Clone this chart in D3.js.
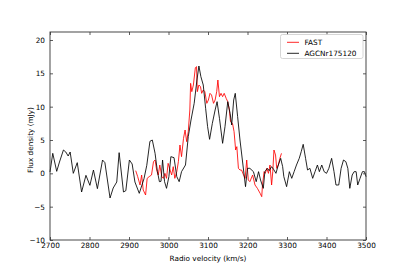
<!DOCTYPE html>
<html><head><meta charset="utf-8">
<script src="https://cdn.jsdelivr.net/npm/d3@7"></script>
<style>body{margin:0;background:#fff}svg{display:block}text{font-family:"DejaVu Sans",sans-serif;fill:#000}</style>
</head><body><svg id="c" width="407" height="271"></svg>
<script>
const agcVel = [2700,2707,2717,2724,2734,2740,2746,2751,2759,2769,2780,2791,2801,2810,2820,2833,2839,2852,2860,2869,2875,2886,2892,2901,2908,2915,2926,2938,2945,2953,2959,2966,2972,2977,2981,2985,2990,2995,3001,3006,3014,3021,3027,3033,3043,3050,3057,3065,3072,3077,3082,3088,3094,3099,3104,3111,3118,3123,3129,3137,3143,3150,3156,3160,3165,3169,3175,3181,3187,3195,3200,3206,3215,3222,3228,3233,3240,3244,3250,3255,3261,3266,3272,3278,3284,3289,3292,3299,3306,3312,3318,3324,3331,3336,3341,3347,3352,3358,3365,3371,3377,3382,3388,3394,3400,3406,3413,3419,3424,3431,3437,3443,3449,3454,3459,3465,3470,3475,3479,3485,3491,3496,3500];
const agcFlux = [0.2,3.0,0.3,1.7,3.5,3.2,2.6,3.2,0.0,1.6,-2.8,-0.3,-1.8,0.5,-2.3,2.0,1.6,-3.7,-2.2,-1.3,3.1,-2.8,-2.6,2.0,1.4,-1.3,-3.0,-0.8,1.2,4.8,5.0,3.0,0.25,-1.25,-1.2,2.0,-1.25,-2.25,-0.5,2.5,2.35,-0.5,-1.25,0.25,1.25,5.5,8.0,10.5,14.0,16.1,14.5,13.25,9.75,7.0,5.1,7.5,9.5,10.75,8.25,4.5,7.0,10.75,9.0,7.25,11.0,12.0,8.5,5.0,2.0,-2.0,0.75,0.75,0.25,-1.25,0.25,-1.0,-2.25,0.25,0.75,0.4,1.0,0.6,0.0,1.25,2.25,1.0,-0.5,-2.0,0.25,-0.75,0.25,1.25,2.25,3.25,4.35,2.25,0.5,0.75,-0.75,0.25,1.25,0.25,1.25,0.25,0.0,0.75,2.25,0.25,-1.75,-1.75,0.75,2.0,1.75,0.75,-2.25,-0.25,0.25,0.25,-1.75,-0.75,0.25,0.25,-0.5];
const fastVel = [2917,2922,2928,2932,2936,2942,2946,2951,2957,2962,2966,2970,2974,2978,2983,2987,2991,2995,2999,3004,3008,3012,3016,3021,3025,3029,3033,3038,3042,3046,3050,3054,3056,3059,3063,3068,3071,3073,3077,3081,3084,3088,3092,3097,3101,3105,3109,3114,3118,3122,3125,3129,3133,3137,3141,3146,3150,3154,3157,3162,3166,3170,3173,3177,3181,3185,3190,3194,3198,3202,3206,3213,3219,3225,3232,3236,3238,3242,3245,3249,3253,3257,3261,3264,3267,3271,3274,3278,3282,3286];
const fastFlux = [0.4,-0.5,-1.75,-0.25,-2.5,-3.25,-0.75,-0.5,-0.25,1.75,2.0,0.5,-0.25,1.25,-0.5,-0.75,0.0,-0.75,1.5,0.5,-0.25,1.0,-0.75,0.25,1.75,4.25,2.5,5.25,6.5,4.75,6.25,9.5,13.5,12.25,13.25,15.85,16.0,12.25,13.25,13.0,12.0,12.5,12.25,10.5,11.0,12.0,11.75,10.5,11.0,12.25,14.0,11.5,12.0,11.5,12.0,11.25,10.75,9.5,7.75,7.5,6.25,3.5,4.0,0.75,0.5,0.5,-0.25,-0.75,2.0,-1.0,-1.25,-0.25,-1.75,-2.25,-3.0,-3.5,-1.75,0.25,0.0,0.75,0.0,1.25,-1.75,0.25,3.5,2.75,0.75,1.25,2.25,3.0];
const xTicks = [2700,2800,2900,3000,3100,3200,3300,3400,3500];
const yTicks = [-10,-5,0,5,10,15,20];
const seriesNames = ["FAST","AGCNr175120"];
const seriesColors = ["#ff0000","#000000"];

const svg = d3.select("#c");
const L=50,R=366,T=32,B=240;
const x = d3.scaleLinear().domain([2700,3500]).range([L,R]);
const y = d3.scaleLinear().domain([-10,21.2]).range([B,T]);
const fs = 7.3;
const axisCol = "#333";

const line = (vs, fl) => d3.line().x((d,i)=>x(vs[i])).y((d,i)=>y(fl[i]))(fl);
svg.append("path").attr("d", line(fastVel, fastFlux)).attr("fill","none").attr("stroke",seriesColors[0]).attr("stroke-width",0.85).attr("stroke-linejoin","round");
svg.append("path").attr("d", line(agcVel, agcFlux)).attr("fill","none").attr("stroke",seriesColors[1]).attr("stroke-width",0.85).attr("stroke-linejoin","round");

const tl = 3;
const axB = svg.append("g").attr("transform",`translate(0,${B})`).call(d3.axisBottom(x).tickValues(xTicks).tickFormat(d3.format("d")).tickSizeInner(-tl).tickSizeOuter(0).tickPadding(2.5));
const axT = svg.append("g").attr("transform",`translate(0,${T})`).call(d3.axisTop(x).tickValues(xTicks).tickFormat("").tickSizeInner(-tl).tickSizeOuter(0));
const axL = svg.append("g").attr("transform",`translate(${L},0)`).call(d3.axisLeft(y).tickValues(yTicks).tickFormat(d=>d<0?"\u2212"+Math.abs(d):d).tickSizeInner(-tl).tickSizeOuter(0).tickPadding(5));
const axR = svg.append("g").attr("transform",`translate(${R},0)`).call(d3.axisRight(y).tickValues(yTicks).tickFormat("").tickSizeInner(-tl).tickSizeOuter(0));
[axB,axT,axL,axR].forEach(a=>{a.select(".domain").remove();a.selectAll("text").attr("font-size",fs).attr("font-family","DejaVu Sans").attr("fill","#222");a.selectAll("line").attr("stroke",axisCol).attr("stroke-width",0.8);});
svg.append("rect").attr("x",L).attr("y",T).attr("width",R-L).attr("height",B-T).attr("fill","none").attr("stroke",axisCol).attr("stroke-width",0.9);

svg.append("text").attr("x",(L+R)/2).attr("y",261).attr("text-anchor","middle").attr("font-size",fs).attr("fill","#222").text("Radio velocity (km/s)");
svg.append("text").attr("transform",`translate(32.5,140) rotate(-90)`).attr("text-anchor","middle").attr("font-size",fs).attr("fill","#222").text("Flux density (mJy)");

const lg = svg.append("g");
lg.append("rect").attr("x",280.5).attr("y",34.5).attr("width",82.5).attr("height",24).attr("rx",2).attr("fill","#fff").attr("fill-opacity",0.8).attr("stroke","#ccc").attr("stroke-width",0.8);
seriesNames.forEach((n,i)=>{
  const yy = 42.3 + i*11;
  lg.append("line").attr("x1",287).attr("x2",299).attr("y1",yy).attr("y2",yy).attr("stroke",seriesColors[i]).attr("stroke-width",0.85);
  lg.append("text").attr("x",304.5).attr("y",yy+2.6).attr("font-size",fs).attr("fill","#222").text(n);
});
</script></body></html>
